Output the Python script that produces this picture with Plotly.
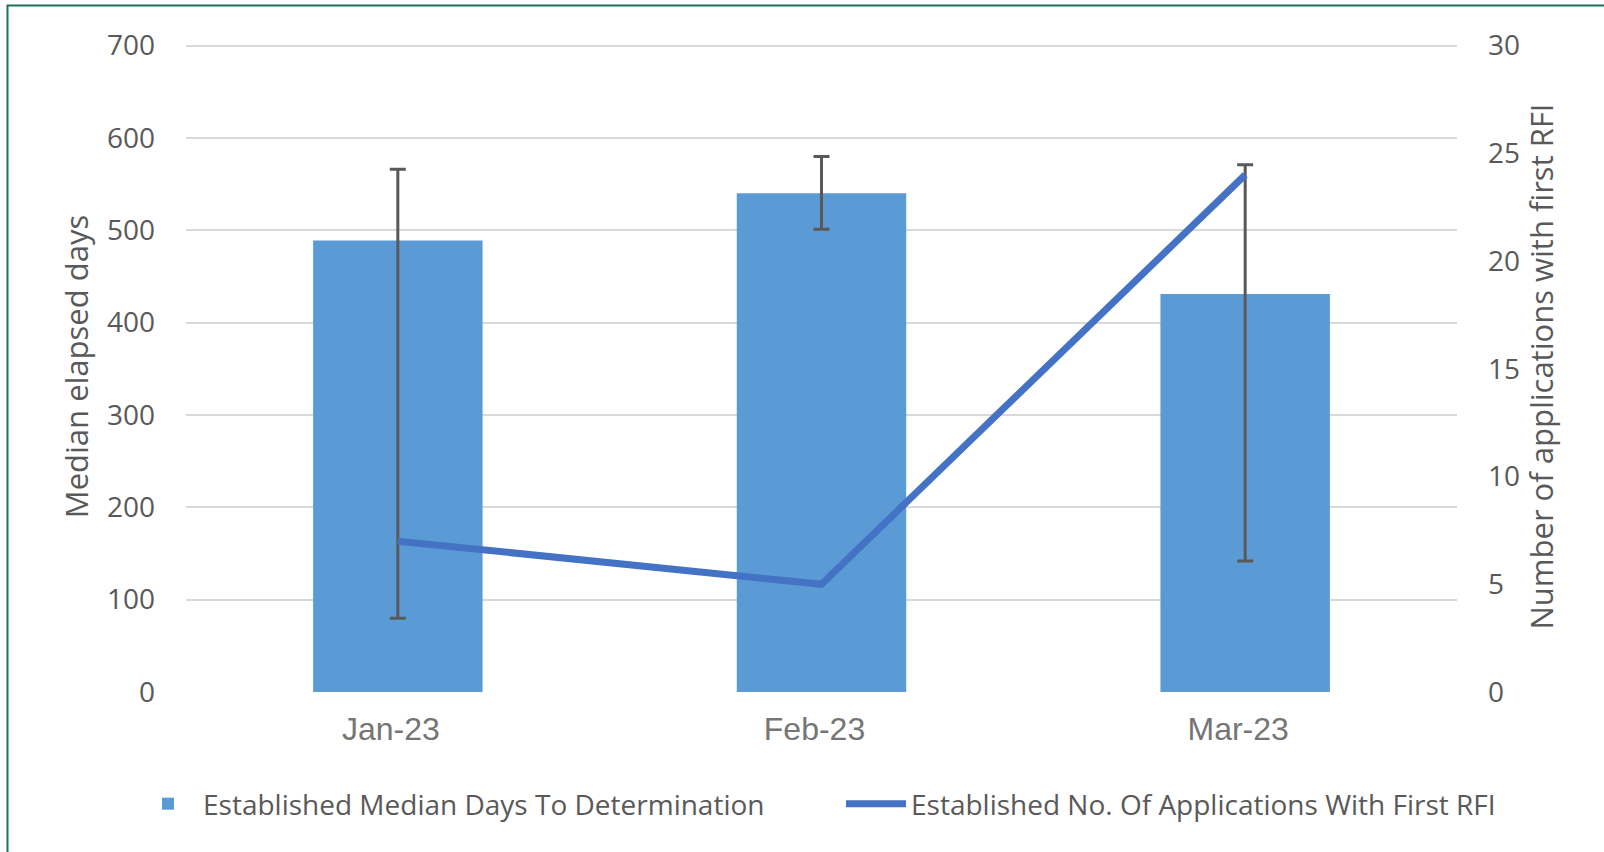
import plotly.graph_objects as go

months = ["Jan-23", "Feb-23", "Mar-23"]
median_days = [489, 540, 431]
err_upper = [566, 580, 571]
err_lower = [80, 501, 142]
apps_first_rfi = [7, 5, 24]

left_ticks = [0, 100, 200, 300, 400, 500, 600, 700]
right_ticks = [0, 5, 10, 15, 20, 25, 30]
left_max, right_max = 705, 30 * 705 / 700

err_plus = [u - v for u, v in zip(err_upper, median_days)]
err_minus = [v - l for v, l in zip(median_days, err_lower)]

W, H = 1604, 852
L, R, B = 186, 147, 160
T = round(H - B - 92.3 * 7.05)
pw, ph = W - L - R, H - T - B

def px(x):
    return (x - L) / pw

def py(y):
    return (H - B - y) / ph

tick_font = dict(family="Open Sans", size=28, color="#595959")
title_font = dict(family="Open Sans", size=31, color="#595959")

fig = go.Figure()
fig.add_trace(go.Bar(
    x=months, y=median_days, name="Established Median Days To Determination",
    marker=dict(color="#5B9BD5", line=dict(width=0)),
    error_y=dict(type="data", symmetric=False, array=err_plus, arrayminus=err_minus,
                 color="#595959", thickness=3, width=8),
    yaxis="y",
))
fig.add_trace(go.Scatter(
    x=months, y=apps_first_rfi, name="Established No. Of Applications With First RFI",
    mode="lines", line=dict(color="#4472C4", width=7),
    yaxis="y2",
))

fig.update_layout(
    width=W, height=H,
    margin=dict(l=L, r=R, t=T, b=B, autoexpand=False),
    paper_bgcolor="white", plot_bgcolor="white",
    bargap=0.6,
    showlegend=True,
    legend=dict(orientation="h", x=px(133), xanchor="left", y=py(804), yanchor="middle",
                font=dict(family="Open Sans", size=28, color="#595959"),
                itemwidth=60, entrywidth=633, traceorder="normal"),
    xaxis=dict(tickfont=dict(family="Liberation Sans", size=32, color="#757575"),
               showgrid=False, showline=False, ticks="", ticklabelstandoff=15,
               ticklabelshift=-7),
    yaxis=dict(range=[0, left_max], tickvals=left_ticks, tickfont=tick_font,
               showgrid=True, gridcolor="#D9D9D9", gridwidth=2, zeroline=False,
               showline=False, ticks="", ticklabelstandoff=30,
               title=dict(text="Median elapsed days", font=title_font, standoff=9)),
    yaxis2=dict(range=[0, right_max], tickvals=right_ticks, tickfont=tick_font,
                overlaying="y", side="right", showgrid=False, zeroline=False,
                showline=False, ticks="", ticklabelstandoff=30,
                title=dict(text="Number of applications with first RFI",
                           font=title_font, standoff=0)),
    shapes=[dict(type="rect", xref="paper", yref="paper",
                 x0=px(7.5), x1=px(1620), y0=py(870), y1=py(5.5),
                 line=dict(color="#1E6F5C", width=2), fillcolor="rgba(0,0,0,0)",
                 layer="above")],
)

fig.write_html("out.html", config={"displayModeBar": False},
               post_script="document.body.style.margin='0';")
